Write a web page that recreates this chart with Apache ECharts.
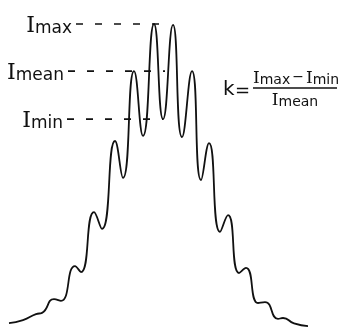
<!DOCTYPE html>
<html><head><meta charset="utf-8">
<script src="https://cdn.jsdelivr.net/npm/echarts@6/dist/echarts.min.js"></script>
<style>html,body{margin:0;padding:0;background:#fff}#c{width:339px;height:327px}</style>
</head><body><div id="c"></div>
<script>
// position across the fringe pattern (arbitrary units)
const positions = [-15.5,-14.1,-12.8,-12.2,-11.0,-10.3,-8.9,-8.3,-7.0,-6.2,-4.9,-4.1,-3.0,-2.1,-1.0,-0.1,0.9,1.8,2.8,3.7,4.5,5.6,6.4,7.5,8.2,9.4,10.1,11.4,11.9,13.0,14.4];
// intensity (arbitrary units)
const intensity = [1.3,2.3,4.3,4.7,9.3,8.7,20.3,18.3,38.3,32.7,62.0,49.7,85.3,63.7,101.0,69.3,100.7,63.3,85.3,49.0,61.3,31.7,37.3,18.0,19.7,8.0,8.3,2.7,3.0,1.2,0.3];
// reference levels
const levelNames = ['max','mean','min'];
const levelValues = [101.0, 85.3, 69.3];
const levelStart = [-8.8, -9.6, -9.7];
const levelEnd = [0.0, 0.1, -0.1];

const chart = echarts.init(document.getElementById('c'), null, {renderer:'canvas'});
const curve = positions.map((p,i)=>[p,intensity[i]]);
const series = [{
  type:'line', data:curve, smooth:0.55, symbol:'none',
  lineStyle:{color:'#111', width:1.8}, z:3
}];
levelValues.forEach((v,i)=>{
  series.push({type:'line', data:[[levelStart[i],v],[levelEnd[i],v]], symbol:'none',
    lineStyle:{color:'#111', width:1.7, type:[7,12]}, z:2});
});
chart.setOption({
  animation:false,
  grid:{left:0,right:0,top:0,bottom:0},
  xAxis:{type:'value', min:-16.4, max:17.5, show:false},
  yAxis:{type:'value', min:0, max:109, show:false},
  series
});
const g = [];
levelValues.forEach((v,i)=>{
  const pt = chart.convertToPixel({gridIndex:0},[levelStart[i],v]);
  g.push({type:'text', x:pt[0]-4, y:pt[1]+2,
    style:{text:'{I|I}{s|'+levelNames[i]+'}', align:'right', verticalAlign:'middle',
      rich:{I:{fontFamily:'DejaVu Serif', fontSize:22, fill:'#111', verticalAlign:'bottom'},
            s:{fontFamily:'DejaVu Sans', fontSize:17, fill:'#111', verticalAlign:'bottom'}}}});
});
// formula k = (Imax - Imin) / Imean
g.push({type:'text', x:223, y:90, style:{text:'k', fontFamily:'DejaVu Sans', fontSize:20, fill:'#111', verticalAlign:'middle'}});
g.push({type:'text', x:235, y:91, style:{text:'=', fontFamily:'DejaVu Sans', fontSize:18, fill:'#111', verticalAlign:'middle'}});
g.push({type:'text', x:296, y:87, style:{text:'{I|I}{s|max}{o|−}{I|I}{s|min}', align:'center', verticalAlign:'bottom',
  rich:{I:{fontFamily:'DejaVu Serif', fontSize:17, fill:'#111', verticalAlign:'bottom'},
        s:{fontFamily:'DejaVu Sans', fontSize:14, fill:'#111', verticalAlign:'bottom'},
        o:{fontFamily:'DejaVu Sans', fontSize:14, fill:'#111', verticalAlign:'bottom', padding:[0,2,3,2]}}}});
g.push({type:'line', shape:{x1:253,y1:88,x2:337,y2:88}, style:{stroke:'#111', lineWidth:1.6}});
g.push({type:'text', x:295, y:92, style:{text:'{I|I}{s|mean}', align:'center', verticalAlign:'top',
  rich:{I:{fontFamily:'DejaVu Serif', fontSize:17, fill:'#111', verticalAlign:'bottom'},
        s:{fontFamily:'DejaVu Sans', fontSize:14, fill:'#111', verticalAlign:'bottom'}}}});
chart.setOption({graphic:g});
</script></body></html>
